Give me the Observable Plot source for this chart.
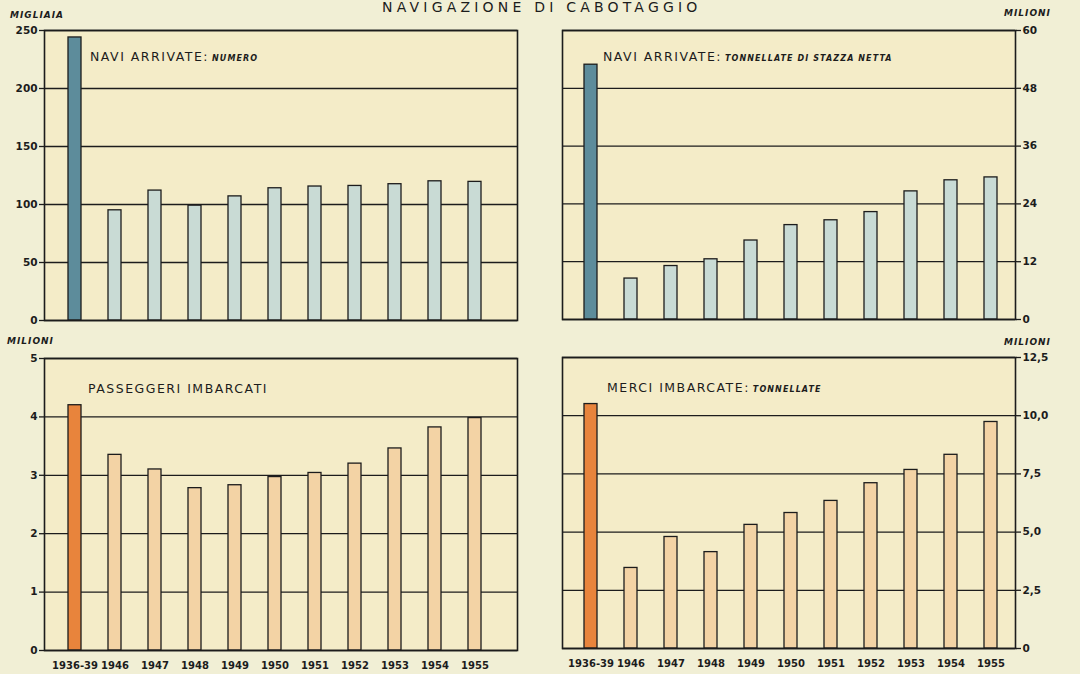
<!DOCTYPE html>
<html>
<head>
<meta charset="utf-8">
<script src="https://cdn.jsdelivr.net/npm/d3@7"></script>
<script src="https://cdn.jsdelivr.net/npm/@observablehq/plot@0.6"></script>
<style>
  html, body { margin: 0; padding: 0; background: #f1efd5; }
  #page { position: relative; width: 1080px; height: 674px; overflow: hidden; background: #f1efd5;
          font-family: "DejaVu Sans", sans-serif; color: #1c1c1c; }
  .panel { position: absolute; }
  .panel svg { overflow: visible; }
  .lbl { position: absolute; white-space: nowrap; line-height: 1; }
  .title { font-size: 14px; letter-spacing: 4.2px; }
  .unit { font-size: 9px; font-weight: bold; font-style: italic; letter-spacing: 1px; }
  .ptitle { font-size: 12.5px; letter-spacing: 1.5px; }
  .psub { font-size: 8px; font-weight: bold; font-style: italic; letter-spacing: 1.1px; margin-left: 3px; }
</style>
</head>
<body>
<div id="page"></div>
<script>
// ---- data ----
const periods = ["1936-39", "1946", "1947", "1948", "1949", "1950", "1951", "1952", "1953", "1954", "1955"];
// Navi arrivate: numero (migliaia)
const naviNumero = [244, 95, 112, 99, 107, 114, 115.5, 116, 117.5, 120, 119.5];
// Navi arrivate: tonnellate di stazza netta (milioni)
const naviTonnellate = [52.9, 8.5, 11.1, 12.5, 16.4, 19.6, 20.6, 22.3, 26.6, 28.9, 29.5];
// Passeggeri imbarcati (milioni)
const passeggeri = [4.2, 3.35, 3.1, 2.78, 2.83, 2.97, 3.04, 3.2, 3.46, 3.82, 3.98];
// Merci imbarcate: tonnellate (milioni)
const merci = [10.5, 3.46, 4.79, 4.14, 5.31, 5.82, 6.34, 7.1, 7.67, 8.32, 9.73];

const ticksNumero = [0, 50, 100, 150, 200, 250];
const ticksTonnellate = [0, 12, 24, 36, 48, 60];
const ticksPasseggeri = [0, 1, 2, 3, 4, 5];
const ticksMerci = [0, 2.5, 5, 7.5, 10, 12.5];

// ---- styling ----
const ink = "#1c1c1c";
const panelFill = "#f4ecc8";
const tealDark = "#5d8c9b", tealLight = "#c9dbd5";
const orangeDark = "#e8843c", orangeLight = "#f3d3a5";

const page = document.getElementById("page");

function addLabel(html, cls, left, top) {
  const d = document.createElement("div");
  d.className = "lbl " + cls;
  d.innerHTML = html;
  d.style.left = left + "px";
  d.style.top = top + "px";
  page.appendChild(d);
  return d;
}

function panel(opts) {
  const rows = periods.map((p, i) => ({period: p, value: opts.values[i], base: i === 0}));
  const marks = [
    Plot.frame({fill: panelFill, stroke: "none"}),
    Plot.ruleY(opts.ticks, {stroke: ink, strokeWidth: 1.3}),
    Plot.barY(rows, {x: "period", y: "value", fill: d => d.base ? opts.dark : opts.light, stroke: ink, strokeWidth: 1.3}),
    Plot.frame({stroke: ink, strokeWidth: 1.6}),
    Plot.axisY(opts.ticks, {anchor: opts.anchor, tickSize: 5, tickPadding: 2, tickFormat: opts.format,
      fontSize: 10.5, fontWeight: "bold", color: ink, strokeWidth: 1.3, label: null})
  ];
  if (opts.xAxis) {
    marks.push(Plot.axisX({tickSize: 0, tickPadding: 11, fontSize: 10, fontWeight: "bold", color: ink, label: null}));
  }
  const chart = Plot.plot({
    width: opts.width, height: opts.height,
    marginTop: opts.mt, marginRight: opts.mr, marginBottom: opts.mb, marginLeft: opts.ml,
    style: {background: "transparent", fontFamily: "DejaVu Sans", color: ink},
    x: {type: "band", domain: periods, paddingInner: 0.675, paddingOuter: opts.po, align: opts.align,
        axis: opts.xAxis ? undefined : null},
    y: {domain: [0, opts.ticks[opts.ticks.length - 1]], axis: null},
    marks
  });
  const wrap = document.createElement("div");
  wrap.className = "panel";
  wrap.style.left = opts.left + "px";
  wrap.style.top = opts.top + "px";
  wrap.appendChild(chart);
  page.appendChild(wrap);
}

const fmtInt = d => String(d);
const fmtDec = d => d === 0 ? "0" : d.toFixed(1).replace(".", ",");

// top-left
panel({values: naviNumero, ticks: ticksNumero, format: fmtInt, anchor: "left", dark: tealDark, light: tealLight,
  left: 0, top: 0, width: 540, height: 335, mt: 30, mr: 23, mb: 15, ml: 44, po: 0.75, align: 0.408, xAxis: false});
// top-right
panel({values: naviTonnellate, ticks: ticksTonnellate, format: fmtInt, anchor: "right", dark: tealDark, light: tealLight,
  left: 540, top: 0, width: 540, height: 335, mt: 30, mr: 65, mb: 16, ml: 22, po: 0.5, align: 0.54, xAxis: false});
// bottom-left
panel({values: passeggeri, ticks: ticksPasseggeri, format: fmtInt, anchor: "left", dark: orangeDark, light: orangeLight,
  left: 0, top: 335, width: 540, height: 339, mt: 23, mr: 23, mb: 24, ml: 44, po: 0.75, align: 0.408, xAxis: true});
// bottom-right
panel({values: merci, ticks: ticksMerci, format: fmtDec, anchor: "right", dark: orangeDark, light: orangeLight,
  left: 540, top: 335, width: 540, height: 339, mt: 22, mr: 65, mb: 26, ml: 22, po: 0.5, align: 0.54, xAxis: true});

// texts
const t = addLabel("NAVIGAZIONE DI CABOTAGGIO", "title", 0, 0);
t.style.left = (542 - t.offsetWidth / 2) + "px";
addLabel("MIGLIAIA", "unit", 10, 11);
addLabel("MILIONI", "unit", 1004, 9);
addLabel("MILIONI", "unit", 7, 337);
addLabel("MILIONI", "unit", 1004, 338);
addLabel('NAVI ARRIVATE:<span class="psub">NUMERO</span>', "ptitle", 90, 51);
addLabel('NAVI ARRIVATE:<span class="psub">TONNELLATE DI STAZZA NETTA</span>', "ptitle", 603, 51);
addLabel('PASSEGGERI IMBARCATI', "ptitle", 88, 383);
addLabel('MERCI IMBARCATE:<span class="psub">TONNELLATE</span>', "ptitle", 607, 382);
</script>
</body>
</html>
